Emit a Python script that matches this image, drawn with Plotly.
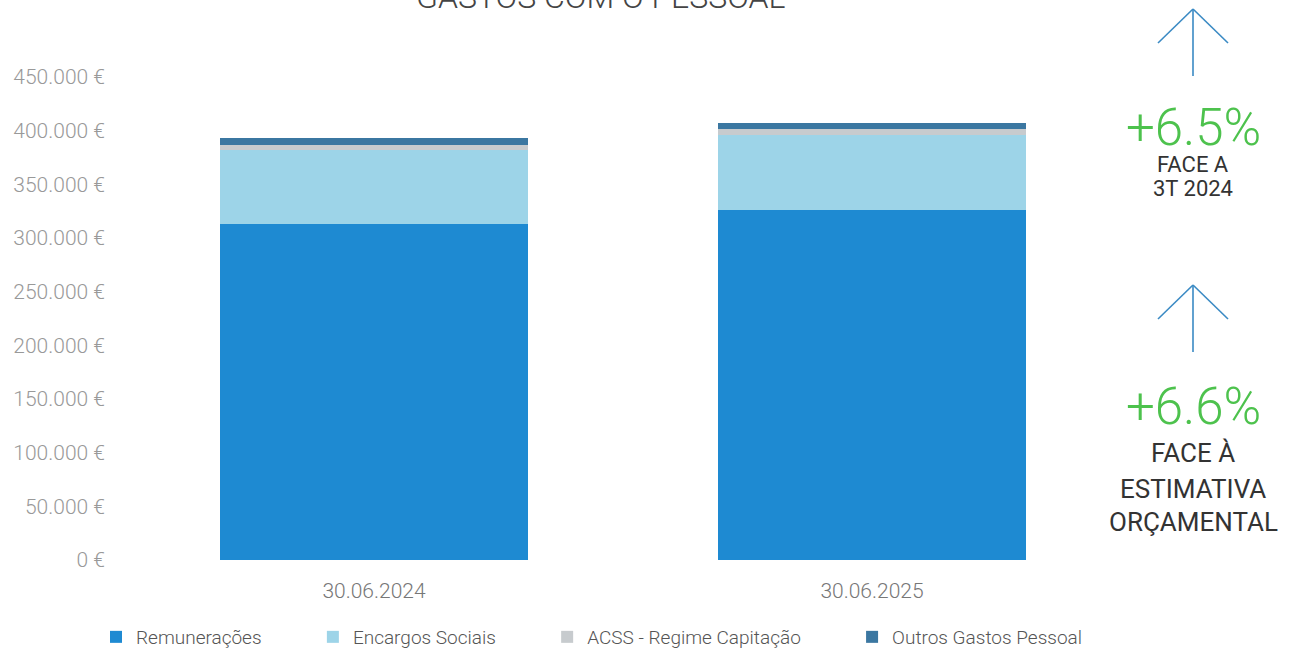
import plotly.graph_objects as go

categories = ["30.06.2024", "30.06.2025"]
remuneracoes = [313500, 325900]
encargos_sociais = [68300, 69800]
acss = [5300, 6200]
outros = [6200, 5200]

series_names = ["Remunerações", "Encargos Sociais", "ACSS - Regime Capitação", "Outros Gastos Pessoal"]
series_colors = ["#1E8AD2", "#9DD4E8", "#C7CBCE", "#3B77A1"]

tick_vals = [0, 50000, 100000, 150000, 200000, 250000, 300000, 350000, 400000, 450000]
tick_text = ["0 €", "50.000 €", "100.000 €", "150.000 €", "200.000 €", "250.000 €",
             "300.000 €", "350.000 €", "400.000 €", "450.000 €"]

W, H = 1295, 653
ML, MT = 125, 77
MR = W - 1121
MB = H - 560
PW, PH = W - ML - MR, H - MT - MB


def px(x):  # picture x pixel -> paper
    return (x - ML) / PW


def py(y):  # picture y pixel -> paper
    return (H - MB - y) / PH


FONT = "Roboto"
PAD = "\u00a0" * 10

fig = go.Figure()
for i, (name, vals, col) in enumerate(zip(series_names, [remuneracoes, encargos_sociais, acss, outros], series_colors)):
    label = name + (PAD if i < len(series_names) - 1 else "")
    fig.add_trace(go.Bar(x=categories, y=vals, name=label, marker=dict(color=col, line=dict(width=0))))

shapes = []
for tip_y in [9, 285]:
    c = "#3A8AC4"
    shapes.append(dict(type="line", xref="paper", yref="paper", x0=px(1193), x1=px(1193),
                       y0=py(tip_y), y1=py(tip_y + 67), line=dict(color=c, width=1.6)))
    shapes.append(dict(type="line", xref="paper", yref="paper", x0=px(1158), x1=px(1193),
                       y0=py(tip_y + 34), y1=py(tip_y), line=dict(color=c, width=1.6)))
    shapes.append(dict(type="line", xref="paper", yref="paper", x0=px(1228), x1=px(1193),
                       y0=py(tip_y + 34), y1=py(tip_y), line=dict(color=c, width=1.6)))

annotations = [
    dict(text="GASTOS COM O PESSOAL", x=px(601), y=py(-3), font=dict(size=32, color="#444", family=FONT, weight=300)),
    dict(text="+6.5%", x=px(1193), y=py(127), font=dict(size=51, color="#4DC24D", family=FONT, weight=300)),
    dict(text="FACE A", x=px(1193), y=py(164), font=dict(size=22, color="#333", family=FONT)),
    dict(text="3T 2024", x=px(1193), y=py(188), font=dict(size=22, color="#333", family=FONT)),
    dict(text="+6.6%", x=px(1193), y=py(406), font=dict(size=51, color="#4DC24D", family=FONT, weight=300)),
    dict(text="FACE À", x=px(1193), y=py(453), font=dict(size=26, color="#333", family=FONT)),
    dict(text="ESTIMATIVA", x=px(1193), y=py(489), font=dict(size=26, color="#333", family=FONT)),
    dict(text="ORÇAMENTAL", x=px(1193), y=py(522), font=dict(size=26, color="#333", family=FONT)),
]
for a in annotations:
    a.update(xref="paper", yref="paper", showarrow=False, xanchor="center", yanchor="middle")

fig.update_layout(
    barmode="stack",
    bargap=0.38,
    width=W, height=H,
    margin=dict(l=ML, r=MR, t=MT, b=MB, autoexpand=False),
    paper_bgcolor="white", plot_bgcolor="white",
    font=dict(family=FONT, color="#666", size=16),
    showlegend=True,
    legend=dict(orientation="h", x=px(592), xanchor="center", y=py(637), yanchor="middle",
                font=dict(size=19, color="#555", family=FONT, weight=300),
                traceorder="normal", itemwidth=30),
    shapes=shapes,
    annotations=annotations,
)
fig.update_xaxes(showgrid=False, showline=False, zeroline=False, ticks="", ticklabelstandoff=16,
                 tickfont=dict(size=21, color="#777", family=FONT, weight=300))
fig.update_yaxes(range=[0, 450000], tickvals=tick_vals, ticktext=tick_text, showgrid=False,
                 showline=False, zeroline=False, ticks="", ticklabelstandoff=19,
                 tickfont=dict(size=21, color="#999", family=FONT, weight=300))

fig.write_html("out.html", config={"displayModeBar": False},
               post_script="document.body.style.margin='0';document.body.style.overflow='hidden';")
